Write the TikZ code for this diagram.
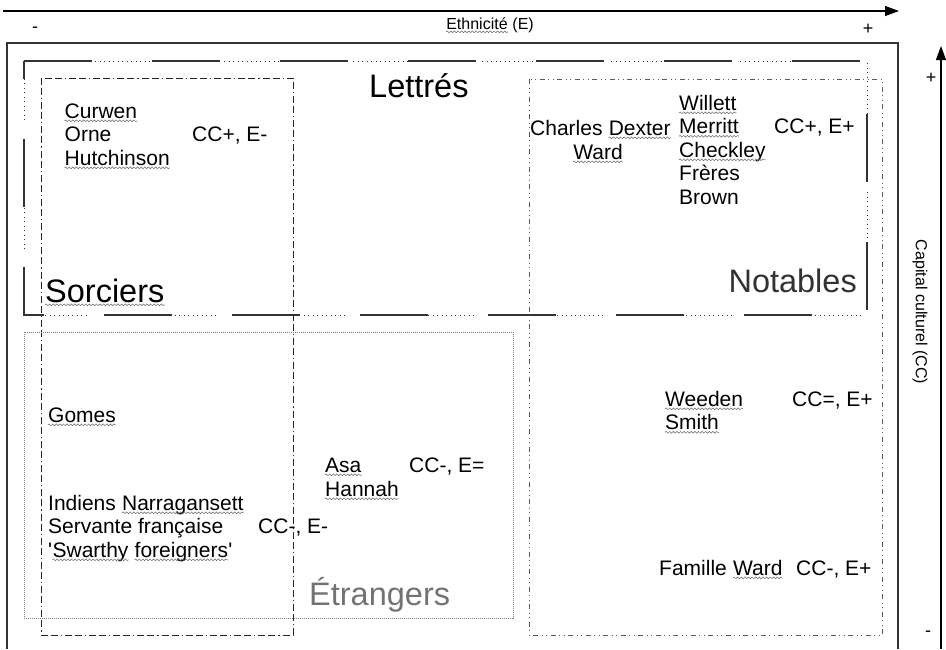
\documentclass[tikz,border=0pt]{standalone}
\usepackage{fontspec}
\setmainfont{Liberation Sans}
\newfontfamily\plainq{Liberation Sans}
\usetikzlibrary{arrows.meta,decorations.pathmorphing}
\tikzset{
  txt/.style={font=\fontsize{21}{23.5}\selectfont, inner sep=0pt, anchor=base west},
  bigtxt/.style={font=\fontsize{32.5}{36}\selectfont, inner sep=0pt, anchor=base west},
  smtxt/.style={font=\fontsize{16}{18}\selectfont, inner sep=0pt},
  signtxt/.style={font=\fontsize{18}{20}\selectfont, inner sep=0pt},
  squig/.style={draw=black!60, line width=0.5pt, decorate,
    decoration={snake, amplitude=0.9pt, segment length=3.6pt}},
  axisline/.style={line width=1.1pt, black},
  outerframe/.style={line width=1.1pt, black!80},
  lettressolid/.style={line width=1.3pt, black!80, dash pattern=on 68pt off 60pt},
  lettresdots/.style={line width=1pt, black!80,
    dash pattern=on 0pt off 71pt on 1pt off 3.5pt on 1pt off 3.5pt on 1pt off 3.5pt on 1pt off 3.5pt on 1pt off 3.5pt on 1pt off 3.5pt on 1pt off 3.5pt on 1pt off 3.5pt on 1pt off 3.5pt on 1pt off 3.5pt on 1pt off 3.5pt on 1pt off 3.5pt on 1pt off 3pt},
  sorcbox/.style={line width=1pt, black!85,
    dash pattern=on 7pt off 3pt on 7pt off 3pt on 1.2pt off 3pt},
  notbox/.style={line width=0.9pt, black!65,
    dash pattern=on 5pt off 3.5pt on 1pt off 3.5pt on 1pt off 3.5pt},
  etrbox/.style={line width=0.7pt, black!50, dash pattern=on 1pt off 1pt},
}
\newcommand\wavy[1]{\draw[squig] ([yshift=-2.8pt]#1.base west) -- ([yshift=-2.8pt]#1.base east);}
\begin{document}
\begin{tikzpicture}[x=1pt,y=-1pt]
\useasboundingbox (0,0) rectangle (946,649);
% axes
\coordinate (ea) at (3,11);
\coordinate (eb) at (899,11);
\draw[axisline,-{Triangle[length=14pt,width=10pt]}] (ea) -- (eb);
\coordinate (ca) at (941,649);
\coordinate (cb) at (941,46);
\draw[axisline,-{Triangle[length=14pt,width=10pt]}] (ca) -- (cb);
\node[smtxt, anchor=base] (eth) at (477,29) {Ethnicité};
\node[smtxt, anchor=base west] (ethE) at ([xshift=4.4pt]eth.base east) {(E)};
\wavy{eth}
\node[signtxt] (eminus) at (35,30) {-};
\node[signtxt] (eplus) at (868,29) {+};
\node[signtxt] (cplus) at (931,78) {+};
\node[signtxt] (cminus) at (928,634) {-};
\node[smtxt, rotate=-90] (cc) at (920,312) {Capital culturel (CC)};
% outer frame
\draw[outerframe] (7,649) -- (7,43) -- (898,43) -- (898,649);
% boxes
\draw[lettressolid] (24,61) -- (867,61) -- (867,315) -- (24,315) -- cycle;
\draw[lettresdots] (24,61) -- (867,61) -- (867,315) -- (24,315) -- cycle;
\draw[sorcbox] (41,78) rectangle (293,635);
\draw[notbox] (529,79) rectangle (882,635);
\draw[etrbox] (24,332) rectangle (513,618);
% big labels
\node[bigtxt] (lettres) at (369,97) {Lettrés};
\node[bigtxt] (sorciers) at (45,302) {Sorciers};
\wavy{sorciers}
\node[bigtxt, anchor=base east, text=black!80] (notables) at (857,292) {Notables};
\node[bigtxt, text=black!55] (etrangers) at (309,605) {Étrangers};
% Sorciers group
\node[txt] (curwen) at (64.5,118) {Curwen};
\node[txt] (orne) at (64.5,141.5) {Orne};
\node[txt] (hutch) at (64.5,165) {Hutchinson};
\wavy{curwen}\wavy{hutch}
\node[txt] (ccA) at (192,141.5) {CC+, E-};
% Notables group
\node[txt] (charles) at (530,135) {Charles};
\node[txt] (dexter) at ([xshift=5.84pt]charles.base east) {Dexter};
\node[txt, anchor=base] (ward) at (598,159) {Ward};
\wavy{dexter}\wavy{ward}
\node[txt] (willett) at (679,110) {Willett};
\node[txt] (merritt) at (679,133.5) {Merritt};
\node[txt] (checkley) at (679,157) {Checkley};
\node[txt] (freres) at (679,180.5) {Frères};
\node[txt] (brown) at (679,204) {Brown};
\wavy{willett}\wavy{merritt}\wavy{checkley}
\node[txt] (ccB) at (774,133.5) {CC+, E+};
% Etrangers group
\node[txt] (gomes) at (48,422) {Gomes};
\wavy{gomes}
\node[txt] (indiens) at (48,510) {Indiens};
\node[txt] (narr) at ([xshift=5.84pt]indiens.base east) {Narragansett};
\wavy{narr}
\node[txt] (servante) at (48,533.5) {Servante française};
\node[txt] (q1) at (48,557) {\plainq '};
\node[txt] (swarthy) at (q1.base east) {Swarthy};
\node[txt] (foreign) at ([xshift=5.84pt]swarthy.base east) {foreigners};
\node[txt] (q2) at (foreign.base east) {\plainq '};
\wavy{swarthy}\wavy{foreign}
\node[txt] (ccC) at (258,533.5) {CC-, E-};
\node[txt] (asa) at (325,472) {Asa};
\node[txt] (hannah) at (325,496) {Hannah};
\wavy{asa}\wavy{hannah}
\node[txt] (ccD) at (409,472) {CC-, E=};
% right lower
\node[txt] (weeden) at (665,406) {Weeden};
\node[txt] (smith) at (665,429.5) {Smith};
\wavy{weeden}\wavy{smith}
\node[txt] (ccE) at (792,406) {CC=, E+};
\node[txt] (famille) at (659,575) {Famille};
\node[txt] (wardB) at ([xshift=5.84pt]famille.base east) {Ward};
\wavy{wardB}
\node[txt] (ccF) at (796,575) {CC-, E+};
\end{tikzpicture}
\end{document}
